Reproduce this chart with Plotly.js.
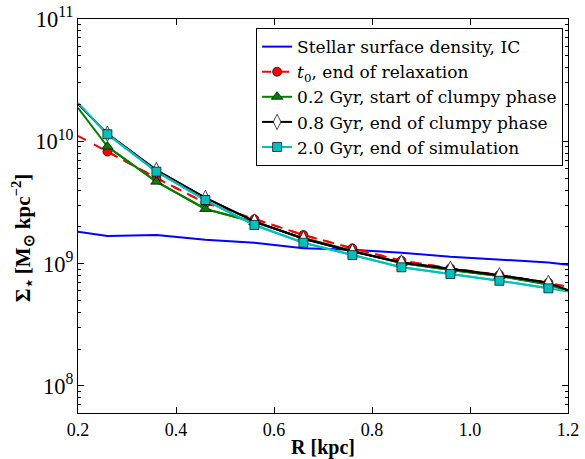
<!DOCTYPE html>
<html>
<head>
<meta charset="utf-8">
<script src="https://cdn.plot.ly/plotly-3.0.1.min.js"></script>
<style>html,body{margin:0;padding:0;background:#fff;}#chart{width:585px;height:459px;}</style>
</head>
<body>
<div id="chart"></div>
<script>
// Radii (kpc)
const R_ic = [0.2, 0.26, 0.36, 0.46, 0.56, 0.66, 0.76, 0.86, 0.96, 1.06, 1.16, 1.2];
const R_full = [0.2, 0.26, 0.36, 0.46, 0.56, 0.66, 0.76, 0.86, 0.96, 1.06, 1.16, 1.2];
const R_mark = [0.26, 0.36, 0.46, 0.56, 0.66, 0.76, 0.86, 0.96, 1.06, 1.16];

// log10 of surface density
const logIC   = [9.26, 9.227, 9.235, 9.195, 9.17, 9.125, 9.113, 9.09, 9.056, 9.035, 9.01, 8.99];
const logT0   = [10.045, 9.916, 9.700, 9.496, 9.363, 9.234, 9.125, 9.024, 8.962, 8.907, 8.844, 8.81];
const log02   = [10.274, 9.957, 9.670, 9.447, 9.340, 9.209, 9.103, 9.005, 8.948, 8.899, 8.829, 8.776];
const log08   = [10.306, 10.062, 9.765, 9.538, 9.345, 9.203, 9.100, 9.010, 8.958, 8.905, 8.843, 8.784];
const log20   = [10.314, 10.058, 9.752, 9.520, 9.316, 9.171, 9.070, 8.970, 8.915, 8.860, 8.798, 8.772];

const names = ["Stellar surface density, IC", "<i>t</i><sub>0</sub>, end of relaxation",
  "0.2 Gyr, start of clumpy phase", "0.8 Gyr, end of clumpy phase", "2.0 Gyr, end of simulation"];
const xTitle = '<b>R [kpc]</b>';
const yTitle = '<b>Σ<sub>⋆</sub> [M<sub>⊙</sub> kpc<sup>−2</sup>]</b>';

const pw = v => v.map(x => Math.pow(10, x));
const inner = v => v.slice(1, v.length - 1);

const traces = [];
traces.push({x: R_ic, y: pw(logIC), mode: 'lines', name: names[0],
  line: {color: '#0000ff', width: 2}});

const series = [
  {v: logT0, color: '#ff0000', dash: 'dash', sym: 'circle', fill: '#ff0000', size: 9},
  {v: log02, color: '#008000', dash: 'solid', sym: 'triangle-up', fill: '#008000', size: 10},
  {v: log08, color: '#000000', dash: 'solid', sym: 'diamond-tall', fill: '#ffffff', size: 11},
  {v: log20, color: '#00bfbf', dash: 'solid', sym: 'square', fill: '#00bfbf', size: 9}
];
series.forEach((s, i) => {
  traces.push({x: R_full, y: pw(s.v), mode: 'lines', showlegend: false, hoverinfo: 'skip',
    line: {color: s.color, width: 2, dash: s.dash}});
  traces.push({x: R_mark, y: pw(inner(s.v)), mode: 'lines+markers', name: names[i + 1],
    line: {color: s.color, width: 2, dash: s.dash},
    marker: {symbol: s.sym, size: s.size, color: s.fill, line: {color: '#000', width: 0.7}}});
});

const FAM = 'Liberation Serif';
const LEGFAM = 'DejaVu Serif';
const layout = {
  width: 585, height: 459,
  margin: {l: 78, r: 17, t: 19, b: 46},
  paper_bgcolor: '#fff', plot_bgcolor: '#fff',
  showlegend: true,
  font: {family: FAM, size: 17, color: '#000'},
  xaxis: {
    range: [0.2, 1.2], dtick: 0.2, tick0: 0.2, tickformat: '.1f',
    ticks: 'inside', ticklen: 6, tickwidth: 1, tickcolor: '#000',
    showline: true, linecolor: '#000', linewidth: 1, mirror: 'ticks',
    showgrid: false, zeroline: false,
    tickfont: {family: FAM, size: 18, color: '#000'},
    title: {text: xTitle, font: {family: FAM, size: 20, color: '#000'}, standoff: 5}
  },
  yaxis: {
    type: 'log', range: [7.779, 11.0], dtick: 1, exponentformat: 'power',
    ticks: 'inside', ticklen: 6, tickwidth: 1, tickcolor: '#000',
    minor: {ticks: 'inside', ticklen: 3, tickcolor: '#000', dtick: 'D1', showgrid: false},
    showline: true, linecolor: '#000', linewidth: 1, mirror: 'ticks',
    showgrid: false, zeroline: false,
    tickfont: {family: FAM, size: 18, color: '#000'}
  },
  annotations: [{
    text: yTitle, textangle: -90, showarrow: false,
    xref: 'paper', yref: 'paper', x: -0.114, y: 0.444, xanchor: 'center', yanchor: 'middle',
    font: {family: FAM, size: 21, color: '#000'}
  }],
  legend: {
    x: 0.99, y: 0.977, xanchor: 'right', yanchor: 'top',
    bgcolor: '#fff', bordercolor: '#000', borderwidth: 1,
    font: {family: LEGFAM, size: 17, color: '#000'}, tracegroupgap: 0
  }
};

Plotly.newPlot('chart', traces, layout, {staticPlot: true, displayModeBar: false});
</script>
</body>
</html>
